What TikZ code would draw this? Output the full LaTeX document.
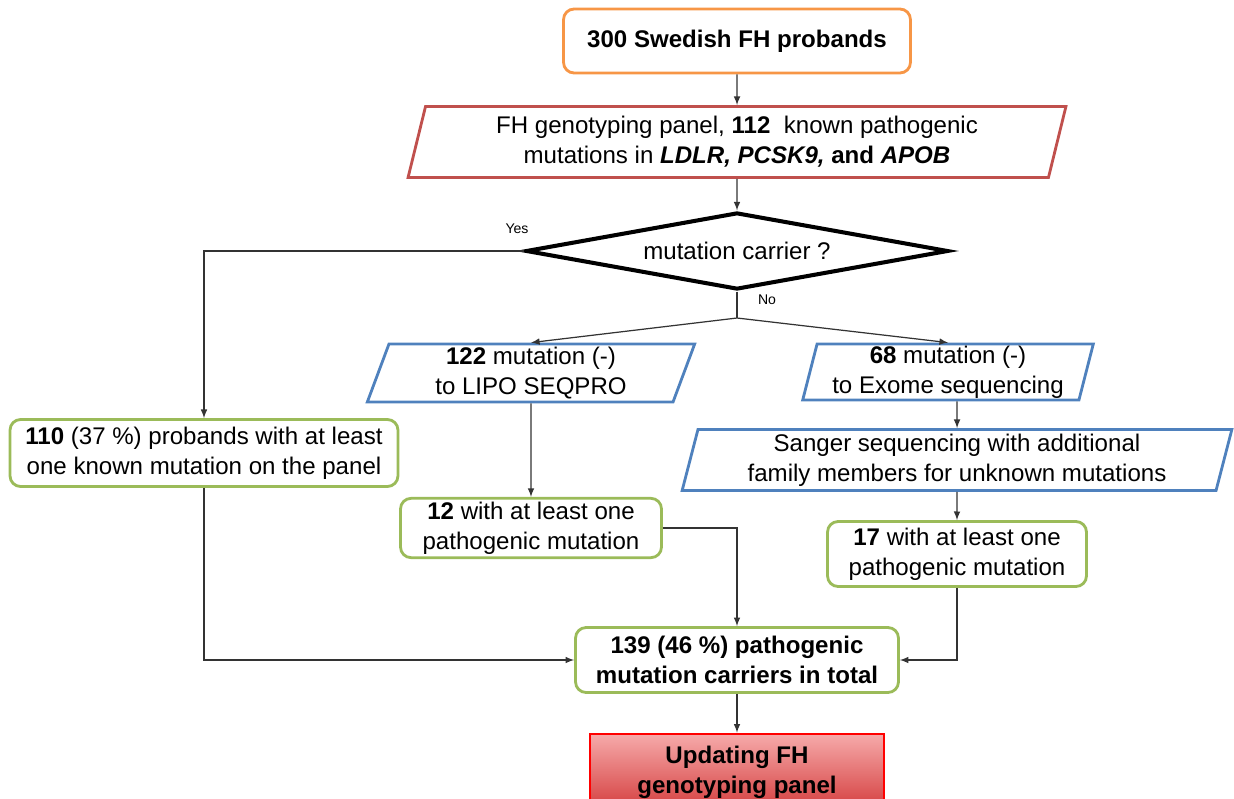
\documentclass[tikz,border=0pt]{standalone}
\usepackage{fontspec}
\setmainfont{Liberation Sans}
\usetikzlibrary{shapes.geometric, calc}

\definecolor{fhorange}{HTML}{F79646}
\definecolor{fhred}{HTML}{C0504D}
\definecolor{fhblue}{HTML}{4F81BD}
\definecolor{fhgreen}{HTML}{9BBB59}

\tikzset{
    boxfont/.style={font=\fontsize{13.7}{17}\selectfont},
    box/.style={draw, boxfont, line width=1.6pt, rounded corners=6pt, align=center, inner sep=2pt},
    orangebox/.style={box, draw=fhorange},
    greenbox/.style={box, draw=fhgreen},
    slantbox/.style={trapezium, trapezium left angle=#1, trapezium right angle=180-#1,
        trapezium stretches=true, draw, boxfont, line width=1.6pt, align=center, inner sep=1pt},
    redpar/.style={slantbox=#1, draw=fhred},
    bluepar/.style={slantbox=#1, draw=fhblue},
    decision/.style={diamond, aspect=5.5, draw, boxfont, line width=2.3pt, inner sep=1pt},
    updatebox/.style={draw=red, line width=1.6pt, boxfont, align=center,
        top color={rgb,255:red,246;green,170;blue,170}, bottom color={rgb,255:red,212;green,62;blue,62}},
    arr/.style={-latex, line width=0.7pt, draw=black!80},
    tag/.style={font=\fontsize{8}{9}\selectfont, inner sep=1pt}
}

\begin{document}
\begin{tikzpicture}[x=0.02cm, y=-0.02cm]
        \useasboundingbox (0,0) rectangle (1234,798);
        \node[orangebox, minimum width=6.94cm, minimum height=1.28cm] (probands) at (737,41)
            {\textbf{300 Swedish FH probands}};
        \node[redpar=76, minimum width=13.2cm, minimum height=1.42cm] (panel) at (737,142)
            {FH genotyping panel, \textbf{112}\ \ known pathogenic\\
             mutations in \textbf{\textit{LDLR, PCSK9,} and \textit{APOB}}};
        \node[decision, minimum width=8.45cm, minimum height=1.54cm] (carrier) at (737,251)
            {mutation carrier ?};
        \coordinate (split) at (737,318);
        \node[bluepar=75, minimum width=6.56cm, minimum height=1.16cm] (lipo) at (531,373)
            {\textbf{122} mutation (-)\\ to LIPO SEQPRO};
        \node[bluepar=77, minimum width=5.82cm, minimum height=1.12cm] (exome) at (948,372)
            {\textbf{68} mutation (-)\\ to Exome sequencing};
        \node[bluepar=77, minimum width=11.04cm, minimum height=1.22cm] (sanger) at (957,460)
            {Sanger sequencing with additional\\ family members for unknown mutations};
        \node[greenbox, minimum width=7.76cm, minimum height=1.34cm] (oneten) at (204,453)
            {\textbf{110} (37 \%) probands with at least\\ one known mutation on the panel};
        \node[greenbox, minimum width=5.22cm, minimum height=1.14cm] (twelve) at (531,528)
            {\textbf{12} with at least one\\ pathogenic mutation};
        \node[greenbox, minimum width=5.18cm, minimum height=1.3cm] (seventeen) at (957,554)
            {\textbf{17} with at least one\\ pathogenic mutation};
        \node[greenbox, minimum width=6.46cm, minimum height=1.3cm] (total) at (737,660)
            {\textbf{139 (46 \%) pathogenic}\\ \textbf{mutation carriers in total}};
        \node[updatebox, minimum width=5.88cm, minimum height=1.52cm] (update) at (737,772)
            {\textbf{Updating FH}\\ \textbf{genotyping panel}};
        \node[tag] (yes) at (517,229) {Yes};
        \node[tag] (no) at (767,300) {No};
        \draw[arr] (probands) -- (panel);
        \draw[arr] (panel) -- (carrier);
        \draw[arr] (carrier.west) -| (oneten);
        \draw[line width=0.7pt, draw=black!80] (carrier) -- (split);
        \draw[arr] (split) -- (lipo.center |- lipo.north);
        \draw[arr] (split) -- (exome.north);
        \draw[arr] (sanger.north |- exome.south) -- (sanger);
        \draw[arr] (sanger) -- (seventeen);
        \draw[arr] (lipo) -- (twelve);
        \draw[arr] (twelve) -| (total);
        \draw[arr] (oneten) |- (total);
        \draw[arr] (seventeen) |- (total);
        \draw[arr] (total) -- (update);
    \end{tikzpicture}
\end{document}
